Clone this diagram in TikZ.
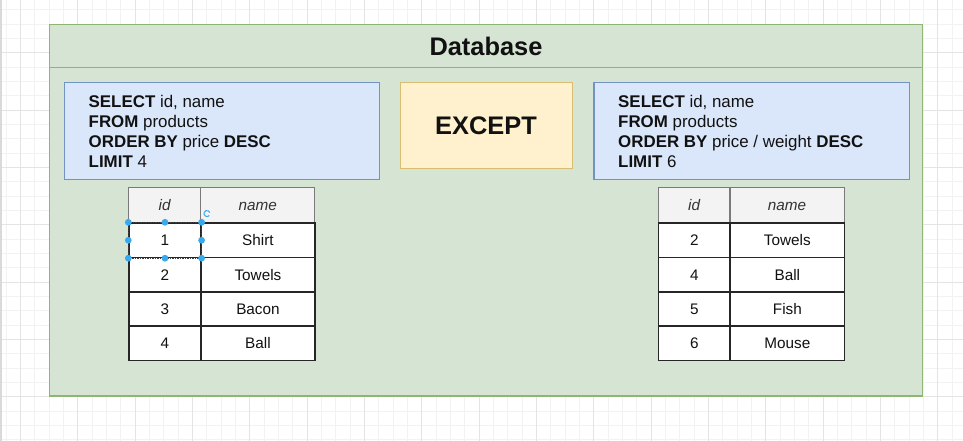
\documentclass[tikz,border=0pt]{standalone}
\usepackage{fontspec}
\setmainfont{Liberation Sans}
\definecolor{gridminor}{HTML}{F2F2F2}
\definecolor{gridmajor}{HTML}{E4E4E4}
\definecolor{dbfill}{HTML}{D6E5D3}
\definecolor{dbdraw}{HTML}{8DB673}
\definecolor{sqlfill}{HTML}{DAE7FA}
\definecolor{sqldraw}{HTML}{7393C4}
\definecolor{exfill}{HTML}{FFF1CD}
\definecolor{exdraw}{HTML}{D9BE72}
\definecolor{hdrfill}{HTML}{F3F3F3}
\definecolor{hdrdraw}{HTML}{7A7A7A}
\definecolor{celldraw}{HTML}{262626}
\definecolor{txt}{HTML}{111111}
\definecolor{selblue}{HTML}{3AA9EC}
\tikzset{
  dbbox/.style={draw=dbdraw, fill=dbfill, line width=1.6pt},
  sqlbox/.style={draw=sqldraw, fill=sqlfill, line width=1.4pt, inner sep=0pt},
  exbox/.style={draw=exdraw, fill=exfill, line width=1.4pt, inner sep=0pt},
  sqlline/.style={anchor=base west, inner sep=0pt, text=txt, font=\fontsize{16.9}{20}\selectfont},
  bigtitle/.style={anchor=base, inner sep=0pt, text=txt, font=\fontsize{25.4}{30}\selectfont\bfseries},
  cellbase/.style={rectangle, inner sep=0pt, anchor=north west, minimum height=34.3pt,
    text height=11pt, text depth=0pt, text=txt, font=\fontsize{15.3}{18}\selectfont},
  bodycell/.style={cellbase, draw=celldraw, fill=white, line width=1.6pt},
  hdrcell/.style={cellbase, draw=hdrdraw, fill=hdrfill, line width=1.1pt, minimum height=35pt,
    text=black!80, font=\fontsize{15.3}{18}\selectfont\itshape},
  idcol/.style={minimum width=71.7pt},
  namecol/.style={minimum width=114.3pt},
  handle/.style={fill=selblue},
}
\begin{document}
\begin{tikzpicture}[x=1pt,y=-1pt]
\useasboundingbox (0,0) rectangle (963,441);
\fill[white] (0,0) rectangle (963,441);
% background grid
\foreach \i in {0,...,67}{
  \draw[gridminor, line width=0.8pt] ({6.2+14.33*\i},0) -- ({6.2+14.33*\i},441);
}
\foreach \i in {0,...,31}{
  \draw[gridminor, line width=0.8pt] (0,{9.67+14.33*\i}) -- (963,{9.67+14.33*\i});
}
\foreach \i in {0,...,16}{
  \draw[gridmajor, line width=0.9pt] ({20.5+57.32*\i},0) -- ({20.5+57.32*\i},441);
}
\foreach \i in {-1,...,6}{
  \draw[gridmajor, line width=0.9pt] (0,{110+57.32*\i}) -- (963,{110+57.32*\i});
}
\fill[black!15] (0,0) rectangle (1.5,441);

% container
\draw[dbbox] (49.5,24.5) rectangle (922.3,396);
\coordinate (hl) at (49.5,67.5);
\coordinate (hr) at (922.3,67.5);
\draw[dbdraw, line width=1.6pt] (hl) -- (hr);
\node[bigtitle] (dbtitle) at (486,55.7) {Database};

% left query
\node[sqlbox, anchor=north west, minimum width=315.5pt, minimum height=97pt] (q1) at (63.5,82) {};
\node[sqlline] (q1a) at (88.5,107.7) {\textbf{SELECT} id, name};
\node[sqlline] (q1b) at (88.5,127.7) {\textbf{FROM} products};
\node[sqlline] (q1c) at (88.5,147.7) {\textbf{ORDER BY} price \textbf{DESC}};
\node[sqlline] (q1d) at (88.5,167.7) {\textbf{LIMIT} 4};

% except
\node[exbox, anchor=north west, minimum width=172pt, minimum height=86pt] (ex) at (400,82) {};
\node[bigtitle] (extext) at (486,134.3) {EXCEPT};

% right query
\node[sqlbox, anchor=north west, minimum width=315.5pt, minimum height=97pt] (q2) at (593.3,82) {};
\node[sqlline] (q2a) at (618,107.7) {\textbf{SELECT} id, name};
\node[sqlline] (q2b) at (618,127.7) {\textbf{FROM} products};
\node[sqlline] (q2c) at (618,147.7) {\textbf{ORDER BY} price / weight \textbf{DESC}};
\node[sqlline] (q2d) at (618,167.7) {\textbf{LIMIT} 6};

% left table
\node[hdrcell, idcol] (Lhid) at (128.3,187.3) {id};
\node[hdrcell, namecol] (Lhname) at (200,187.3) {name};
\foreach \id/\nm [count=\r] in {1/Shirt,2/Towels,3/Bacon,4/Ball}{
  \node[bodycell, idcol] (Lid\r) at (128.3,{222.3+34.3*(\r-1)}) {\id};
  \node[bodycell, namecol] (Lname\r) at (200,{222.3+34.3*(\r-1)}) {\nm};
}

% right table
\node[hdrcell, idcol] (Rhid) at (657.7,187.3) {id};
\node[hdrcell, namecol] (Rhname) at (729.4,187.3) {name};
\foreach \id/\nm [count=\r] in {2/Towels,4/Ball,5/Fish,6/Mouse}{
  \node[bodycell, idcol] (Rid\r) at (657.7,{222.3+34.3*(\r-1)}) {\id};
  \node[bodycell, namecol] (Rname\r) at (729.4,{222.3+34.3*(\r-1)}) {\nm};
}

% selection on cell "1"
\draw[black!75, line width=1.4pt, dash pattern=on 1.5pt off 1pt] (Lid1.north west) rectangle (Lid1.south east);
\foreach \a in {north west,north,north east,east,south east,south,south west,west}{
  \fill[handle] (Lid1.\a) circle[radius=3.4pt];
}
\draw[selblue, line width=1pt] (209.8,212.5) arc[start angle=20, end angle=320, radius=3pt];
\end{tikzpicture}
\end{document}
